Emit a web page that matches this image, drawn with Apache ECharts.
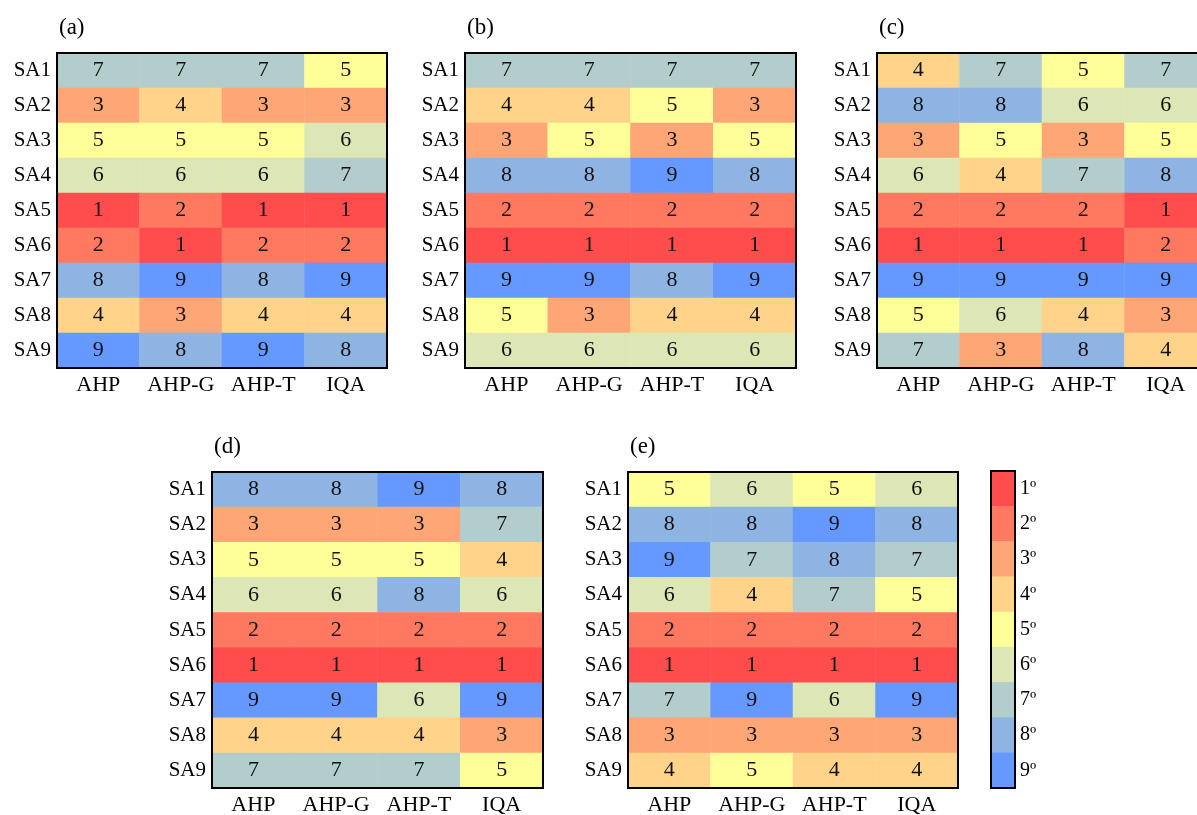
<!DOCTYPE html>
<html>
<head>
<meta charset="utf-8">
<script src="https://cdn.jsdelivr.net/npm/echarts@6/dist/echarts.min.js"></script>
<style>
  html, body { margin: 0; padding: 0; background: #fff; }
  #chart { width: 1197px; height: 815px; }
</style>
</head>
<body>
<div id="chart"></div>
<script>
// Ranking of nine study areas under four weighting methods, five scenarios
const methods = ['AHP', 'AHP-G', 'AHP-T', 'IQA'];
const areas = ['SA1', 'SA2', 'SA3', 'SA4', 'SA5', 'SA6', 'SA7', 'SA8', 'SA9'];
const rankLabels = ['1º', '2º', '3º', '4º', '5º', '6º', '7º', '8º', '9º'];
const rankColors = ['#FF4D4D', '#FF7961', '#FFA676', '#FFD38A', '#FFFF99',
                    '#DCE7B5', '#B3CDCD', '#8EB4E3', '#6699FF'];

// rows = SA1..SA9, columns = AHP, AHP-G, AHP-T, IQA
const ranksA = [
  [7, 7, 7, 5], [3, 4, 3, 3], [5, 5, 5, 6], [6, 6, 6, 7], [1, 2, 1, 1],
  [2, 1, 2, 2], [8, 9, 8, 9], [4, 3, 4, 4], [9, 8, 9, 8]
];
const ranksB = [
  [7, 7, 7, 7], [4, 4, 5, 3], [3, 5, 3, 5], [8, 8, 9, 8], [2, 2, 2, 2],
  [1, 1, 1, 1], [9, 9, 8, 9], [5, 3, 4, 4], [6, 6, 6, 6]
];
const ranksC = [
  [4, 7, 5, 7], [8, 8, 6, 6], [3, 5, 3, 5], [6, 4, 7, 8], [2, 2, 2, 1],
  [1, 1, 1, 2], [9, 9, 9, 9], [5, 6, 4, 3], [7, 3, 8, 4]
];
const ranksD = [
  [8, 8, 9, 8], [3, 3, 3, 7], [5, 5, 5, 4], [6, 6, 8, 6], [2, 2, 2, 2],
  [1, 1, 1, 1], [9, 9, 6, 9], [4, 4, 4, 3], [7, 7, 7, 5]
];
const ranksE = [
  [5, 6, 5, 6], [8, 8, 9, 8], [9, 7, 8, 7], [6, 4, 7, 5], [2, 2, 2, 2],
  [1, 1, 1, 1], [7, 9, 6, 9], [3, 3, 3, 3], [4, 5, 4, 4]
];

const panelTags = ['(a)', '(b)', '(c)', '(d)', '(e)'];
const panelData = [ranksA, ranksB, ranksC, ranksD, ranksE];

// panel boxes in pixels (the third one runs past the right edge)
const boxes = [
  { left: 57,  top: 53,  width: 330, height: 315 },
  { left: 465, top: 53,  width: 331, height: 315 },
  { left: 877, top: 53,  width: 330, height: 315 },
  { left: 212, top: 472, width: 331, height: 316 },
  { left: 628, top: 472, width: 330, height: 316 }
];
const legendBox = { left: 991, top: 471, width: 24, height: 317 };

const FONT = '"Liberation Serif", "Times New Roman", serif';

const grids = [], xAxes = [], yAxes = [], series = [], graphics = [];

panelData.forEach((ranks, p) => {
  const b = boxes[p];
  grids.push({
    left: b.left, top: b.top, width: b.width, height: b.height,
    outerBoundsMode: 'none', containLabel: false,
    show: true, borderColor: '#000', borderWidth: 2, z: 10,
    backgroundColor: 'transparent'
  });
  xAxes.push({
    type: 'category', gridIndex: p, data: methods,
    axisLine: { show: false }, axisTick: { show: false }, splitLine: { show: false },
    axisLabel: { interval: 0, color: '#000', fontFamily: FONT, fontSize: 22, margin: 6 }
  });
  yAxes.push({
    type: 'category', gridIndex: p, data: areas, inverse: true,
    axisLine: { show: false }, axisTick: { show: false }, splitLine: { show: false },
    axisLabel: { interval: 0, color: '#000', fontFamily: FONT, fontSize: 21, margin: 6 }
  });
  const cells = [];
  ranks.forEach((row, r) => row.forEach((v, c) => cells.push([c, r, v])));
  series.push({
    type: 'heatmap', xAxisIndex: p, yAxisIndex: p, data: cells,
    label: { show: true, color: '#111', fontFamily: FONT, fontSize: 22 },
    itemStyle: { borderWidth: 0 },
    emphasis: { disabled: true }
  });
  graphics.push({
    type: 'text', left: b.left + 2, top: b.top - 37,
    style: { text: panelTags[p], fill: '#000', font: '23px ' + FONT }
  });
});

// colour key: one column of ranks 1..9
const L = panelData.length;
grids.push({
  left: legendBox.left, top: legendBox.top, width: legendBox.width, height: legendBox.height,
  outerBoundsMode: 'none', containLabel: false,
  show: true, borderColor: '#000', borderWidth: 2, z: 10, backgroundColor: 'transparent'
});
xAxes.push({
  type: 'category', gridIndex: L, data: ['key'], show: false
});
yAxes.push({
  type: 'category', gridIndex: L, data: rankLabels, inverse: true, position: 'right',
  axisLine: { show: false }, axisTick: { show: false }, splitLine: { show: false },
  axisLabel: { interval: 0, color: '#000', fontFamily: FONT, fontSize: 20, margin: 5 }
});
series.push({
  type: 'heatmap', xAxisIndex: L, yAxisIndex: L,
  data: rankLabels.map((_, i) => [0, i, i + 1]),
  label: { show: false }, emphasis: { disabled: true }
});

const chart = echarts.init(document.getElementById('chart'), null, { renderer: 'canvas' });
chart.setOption({
  animation: false,
  backgroundColor: '#fff',
  grid: grids,
  xAxis: xAxes,
  yAxis: yAxes,
  visualMap: {
    type: 'piecewise', show: false, dimension: 2,
    pieces: rankColors.map((c, i) => ({ value: i + 1, color: c }))
  },
  graphic: graphics,
  series: series
});
</script>
</body>
</html>
